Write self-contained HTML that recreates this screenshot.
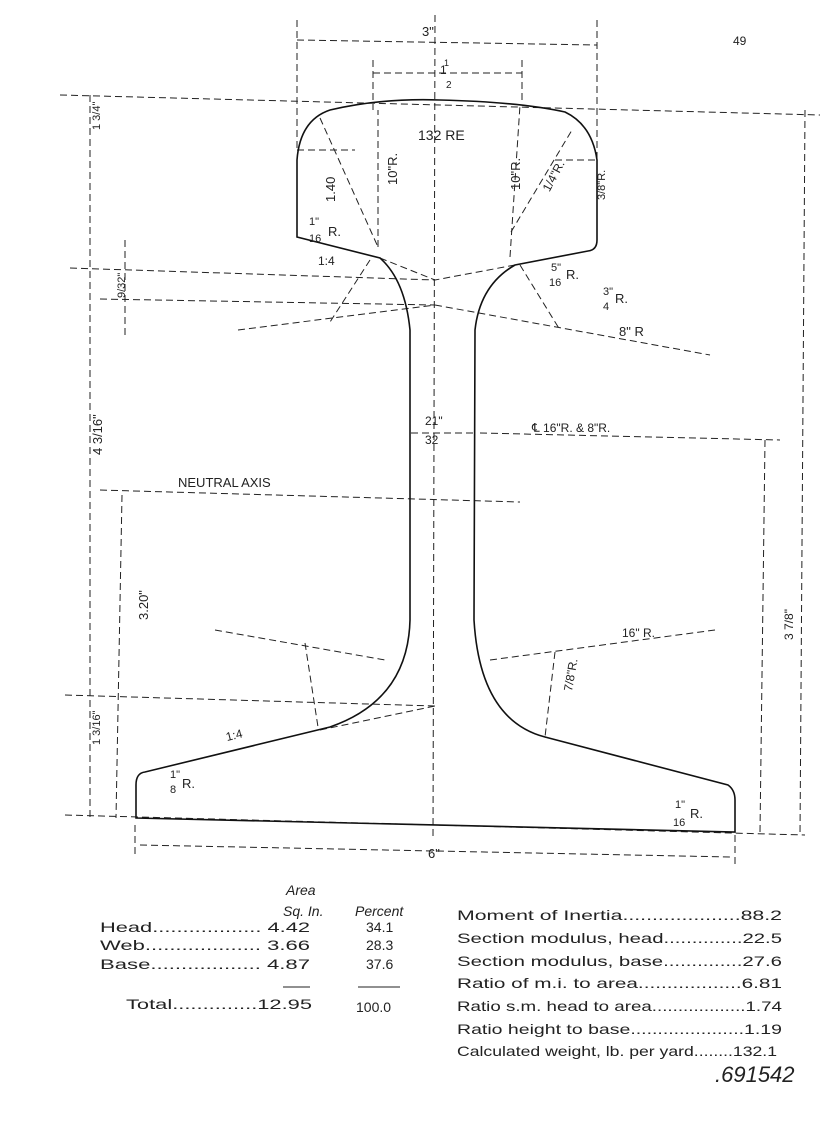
<!DOCTYPE html>
<html><head><meta charset="utf-8"><style>
html,body{margin:0;padding:0;background:#fff;}
svg{display:block}
text{font-family:"Liberation Sans",sans-serif;fill:#222}
</style></head><body>
<svg width="833" height="1143" viewBox="0 0 833 1143" xmlns="http://www.w3.org/2000/svg">
<g fill="none" stroke="#222" stroke-width="1" stroke-dasharray="7,4">
<line x1="435" y1="15" x2="433" y2="840"/>
<line x1="297" y1="20" x2="297" y2="150"/>
<line x1="597" y1="20" x2="597" y2="160"/>
<line x1="373" y1="60" x2="373" y2="110"/>
<line x1="522" y1="60" x2="522" y2="100"/>
<line x1="297" y1="40" x2="597" y2="45"/>
<line x1="373" y1="73" x2="522" y2="73"/>
<line x1="60" y1="95" x2="820" y2="115"/>
<line x1="90" y1="95" x2="90" y2="818"/>
<line x1="125" y1="240" x2="125" y2="335"/>
<line x1="122" y1="495" x2="116" y2="818"/>
<line x1="70" y1="268" x2="435" y2="280"/>
<line x1="100" y1="299" x2="435" y2="305"/>
<line x1="65" y1="695" x2="435" y2="706"/>
<line x1="805" y1="110" x2="800" y2="835"/>
<line x1="765" y1="440" x2="760" y2="832"/>
<line x1="480" y1="433" x2="780" y2="440"/>
<line x1="100" y1="490" x2="520" y2="502"/>
<line x1="65" y1="815" x2="805" y2="835"/>
<line x1="135" y1="825" x2="135" y2="858"/>
<line x1="735" y1="835" x2="735" y2="865"/>
<line x1="140" y1="845" x2="730" y2="857"/>
<line x1="320" y1="118" x2="378" y2="247"/>
<line x1="297" y1="150" x2="355" y2="150"/>
<line x1="378" y1="247" x2="378" y2="110"/>
<line x1="510" y1="257" x2="520" y2="105"/>
<line x1="511" y1="232" x2="572" y2="130"/>
<line x1="555" y1="160" x2="597" y2="160"/>
<line x1="380" y1="258" x2="435" y2="280"/>
<line x1="515" y1="265" x2="435" y2="280"/>
<line x1="370" y1="260" x2="330" y2="322"/>
<line x1="238" y1="330" x2="435" y2="305"/>
<line x1="435" y1="305" x2="710" y2="355"/>
<line x1="520" y1="265" x2="560" y2="330"/>
<line x1="215" y1="630" x2="385" y2="660"/>
<line x1="305" y1="643" x2="318" y2="727"/>
<line x1="320" y1="730" x2="435" y2="706"/>
<line x1="490" y1="660" x2="715" y2="630"/>
<line x1="555" y1="652" x2="545" y2="737"/>
<line x1="411" y1="433" x2="474" y2="433"/>
</g>
<path d="M297,237 L297,160 Q300,120 330,110 Q380,98 440,100 Q520,102 565,112 Q592,125 597,160 L597,240 Q597,250 588,251 L515,265 Q480,285 475,330 L474,620 Q480,720 545,737 L728,785 Q735,790 735,800 L735,832 L136,818 L136,785 Q136,773 145,772 L330,727 Q408,700 410,620 L410,330 Q405,280 380,258 Z" fill="none" stroke="#111" stroke-width="1.6"/>
<g font-size="13">
<text x="422" y="36">3"</text>
<text x="440" y="74" font-size="12">1</text><text x="444" y="66" font-size="9">1</text>
<text x="446" y="88" font-size="10">2</text>
<text x="418" y="140" font-size="14">132 RE</text>
<text x="733" y="45" font-size="12" fill="#888">49</text>
<text x="278" y="205" transform="rotate(-90 305 175)">1.40</text>
<text x="309" y="225" font-size="11">1"</text><text x="309" y="242" font-size="11">16</text><text x="328" y="236">R.</text>
<text x="318" y="265" font-size="12">1:4</text>
<text x="392" y="190" transform="rotate(-90 392 185)" font-size="13">10"R.</text>
<text x="505" y="205" transform="rotate(-90 505 190)" font-size="13">10"R.</text>
<text x="545" y="195" transform="rotate(-62 545 190)" font-size="12">1/4"R.</text>
<text x="590" y="215" transform="rotate(-90 590 200)" font-size="11">3/8"R.</text>
<text x="551" y="271" font-size="11">5"</text><text x="549" y="286" font-size="11">16</text><text x="566" y="279">R.</text>
<text x="603" y="295" font-size="11">3"</text><text x="603" y="310" font-size="11">4</text><text x="615" y="303">R.</text>
<text x="619" y="336">8" R</text>
<text x="107" y="300" transform="rotate(-90 115 290)" font-size="11">9/32"</text>
<text x="90" y="140" transform="rotate(-90 90 130)" font-size="11">1 3/4"</text>
<text x="92" y="465" transform="rotate(-90 92 455)" font-size="13">4 3/16"</text>
<text x="128" y="640" transform="rotate(-90 128 620)" font-size="13">3.20"</text>
<text x="90" y="755" transform="rotate(-90 90 745)" font-size="11">1 3/16"</text>
<text x="773" y="660" transform="rotate(-90 773 640)" font-size="12">3 7/8"</text>
<text x="178" y="487" font-size="13">NEUTRAL AXIS</text>
<text x="425" y="425" font-size="12">21"</text><text x="425" y="444" font-size="12">32</text>
<text x="532" y="432" font-size="12">℄ 16"R. &amp; 8"R.</text>
<text x="622" y="637" font-size="12">16" R.</text>
<text x="562" y="700" transform="rotate(-80 562 690)" font-size="12">7/8"R.</text>
<text x="228" y="745" transform="rotate(-14 228 745)" font-size="12" dy="-4">1:4</text>
<text x="170" y="778" font-size="11">1"</text><text x="170" y="793" font-size="11">8</text><text x="182" y="788">R.</text>
<text x="675" y="808" font-size="11">1"</text><text x="673" y="826" font-size="11">16</text><text x="690" y="818">R.</text>
<text x="428" y="858">6"</text>
</g>
<g font-size="14">
<text x="286" y="895" font-style="italic">Area</text>
<text x="283" y="916" font-style="italic">Sq. In.</text>
<text x="355" y="916" font-style="italic">Percent</text>
<text x="100" y="932" textLength="210" lengthAdjust="spacingAndGlyphs">Head.................. 4.42</text>
<text x="100" y="950" textLength="210" lengthAdjust="spacingAndGlyphs">Web................... 3.66</text>
<text x="100" y="969" textLength="210" lengthAdjust="spacingAndGlyphs">Base.................. 4.87</text>
<text x="366" y="932">34.1</text>
<text x="366" y="950">28.3</text>
<text x="366" y="969">37.6</text>
<line x1="283" y1="987" x2="310" y2="987" stroke="#222"/>
<line x1="358" y1="987" x2="400" y2="987" stroke="#222"/>
<text x="126" y="1009" textLength="186" lengthAdjust="spacingAndGlyphs">Total..............12.95</text>
<text x="356" y="1012">100.0</text>
<text x="457" y="920" textLength="325" lengthAdjust="spacingAndGlyphs">Moment of Inertia....................88.2</text>
<text x="457" y="943" textLength="325" lengthAdjust="spacingAndGlyphs">Section modulus, head..............22.5</text>
<text x="457" y="966" textLength="325" lengthAdjust="spacingAndGlyphs">Section modulus, base..............27.6</text>
<text x="457" y="988" textLength="325" lengthAdjust="spacingAndGlyphs">Ratio of m.i. to area..................6.81</text>
<text x="457" y="1011" textLength="325" lengthAdjust="spacingAndGlyphs">Ratio s.m. head to area..................1.74</text>
<text x="457" y="1034" textLength="325" lengthAdjust="spacingAndGlyphs">Ratio height to base.....................1.19</text>
<text x="457" y="1056" textLength="320" lengthAdjust="spacingAndGlyphs">Calculated weight, lb. per yard........132.1</text>
<text x="715" y="1082" font-size="22" font-style="italic" fill="#555">.691542</text>
</g>
</svg>
</body></html>
